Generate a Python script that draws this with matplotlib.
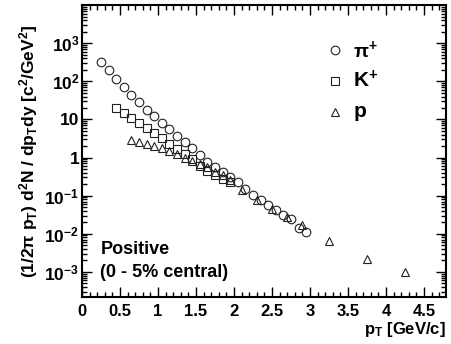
import numpy as np
import matplotlib
matplotlib.use("Agg")
import matplotlib.pyplot as plt
from matplotlib.ticker import FixedLocator, LogLocator, NullFormatter, MultipleLocator

plt.rcParams['font.family'] = ['Liberation Sans', 'DejaVu Sans']
plt.rcParams['font.weight'] = 'bold'
plt.rcParams['axes.labelweight'] = 'bold'
plt.rcParams['mathtext.fontset'] = 'custom'
plt.rcParams['mathtext.rm'] = 'Liberation Sans:bold'
plt.rcParams['mathtext.bf'] = 'Liberation Sans:bold'
plt.rcParams['mathtext.it'] = 'Liberation Sans:bold'
plt.rcParams['mathtext.sf'] = 'Liberation Sans:bold'

# pi+
pi_pt = [0.25, 0.35, 0.45, 0.55, 0.65, 0.75, 0.85, 0.95, 1.05, 1.15, 1.25, 1.35,
         1.45, 1.55, 1.65, 1.75, 1.85, 1.95, 2.05, 2.15, 2.25, 2.35, 2.45, 2.55,
         2.65, 2.75, 2.85, 2.95]
pi_y = [316, 200, 116, 71, 43, 29, 18, 12.3, 8.2, 5.5, 3.7, 2.6,
        1.78, 1.18, 0.75, 0.556, 0.41, 0.31, 0.226, 0.145, 0.102, 0.076, 0.056, 0.042,
        0.031, 0.025, 0.0145, 0.0114]

# K+
k_pt = [0.45, 0.55, 0.65, 0.75, 0.85, 0.95, 1.05, 1.15, 1.25, 1.35, 1.45, 1.55,
        1.65, 1.75, 1.85, 1.95]
k_y = [19.4, 14.9, 11, 8.2, 6.0, 4.5, 3.2, 2.24, 1.66, 1.23, 0.91, 0.61,
       0.45, 0.35, 0.27, 0.23]

# p
p_pt = [0.65, 0.75, 0.85, 0.95, 1.05, 1.15, 1.25, 1.35, 1.45, 1.55, 1.65, 1.75,
        1.85, 1.95, 2.1, 2.3, 2.5, 2.7, 2.9, 3.25, 3.75, 4.25]
p_y = [2.9, 2.5, 2.24, 2.0, 1.78, 1.5, 1.23, 1.0, 0.83, 0.67, 0.56, 0.43,
       0.34, 0.25, 0.138, 0.076, 0.044, 0.027, 0.017, 0.0066, 0.0022, 0.00098]

y_ticks = [1e-3, 1e-2, 1e-1, 1, 10, 1e2, 1e3]
y_ticklabels = [r'10$^{\mathbf{-3}}$', r'10$^{\mathbf{-2}}$', r'10$^{\mathbf{-1}}$', '1', '10',
                r'10$^{\mathbf{2}}$', r'10$^{\mathbf{3}}$']
x_ticks = [0, 0.5, 1, 1.5, 2, 2.5, 3, 3.5, 4, 4.5]
x_ticklabels = ['0', '0.5', '1', '1.5', '2', '2.5', '3', '3.5', '4', '4.5']

fig = plt.figure(figsize=(4.51, 3.44), dpi=100)
ax = fig.add_axes([0.182, 0.137, 0.807, 0.848])

mk = dict(linestyle='none', markerfacecolor='none', markeredgecolor='#222222', markeredgewidth=0.8)
ax.plot(p_pt, p_y, marker='^', markersize=6, label='p', **mk)
ax.plot(k_pt, k_y, marker='s', markersize=5.5, label=r'K$^{+}$', **mk)
ax.plot(pi_pt, pi_y, marker='o', markersize=6.2, label=r'$\pi^{+}$', **mk)

ax.set_yscale('log')
ax.set_xlim(0, 4.79)
ax.set_ylim(2.2e-4, 1e4)

ax.yaxis.set_major_locator(FixedLocator(y_ticks))
ax.set_yticklabels(y_ticklabels)
ax.yaxis.set_minor_locator(LogLocator(base=10, subs=np.arange(2, 10)))
ax.yaxis.set_minor_formatter(NullFormatter())
ax.set_xticks(x_ticks)
ax.set_xticklabels(x_ticklabels)
ax.xaxis.set_minor_locator(MultipleLocator(0.1))

ax.tick_params(which='both', direction='in', top=True, right=True, width=1)
ax.tick_params(axis='x', labelsize=12, pad=5)
ax.tick_params(axis='y', labelsize=12.5, pad=2)
ax.tick_params(which='major', length=7)
ax.tick_params(which='minor', length=3.5)
for s in ax.spines.values():
    s.set_linewidth(1.5)

ax.set_ylabel(r'(1/2$\pi$ p$_{\mathbf{T}}$) d$^{\mathbf{2}}$N / dp$_{\mathbf{T}}$dy [c$^{\mathbf{2}}$/GeV$^{\mathbf{2}}$]',
              fontsize=12.5, labelpad=3)
ax.set_xlabel(r'p$_{\mathbf{T}}$ [GeV/c]', fontsize=12, loc='right', labelpad=1)

# legend, drawn by hand in axes coords
leg_items = [('o', 6.2, r'$\pi^{+}$', 14), ('s', 5.5, r'K$^{\mathbf{+}}$', 15), ('^', 6, 'p', 15)]
for i, (m, ms, lab, fs) in enumerate(leg_items):
    yy = 0.845 - i * 0.105
    ax.plot([0.695], [yy], marker=m, markersize=ms, transform=ax.transAxes, **mk)
    ax.text(0.745, yy, lab, transform=ax.transAxes, fontsize=fs, va='center', ha='left')

ax.text(0.05, 0.163, 'Positive', transform=ax.transAxes, fontsize=13, va='center')
ax.text(0.05, 0.085, '(0 - 5% central)', transform=ax.transAxes, fontsize=13, va='center')

fig.savefig('out.png', dpi=100)
